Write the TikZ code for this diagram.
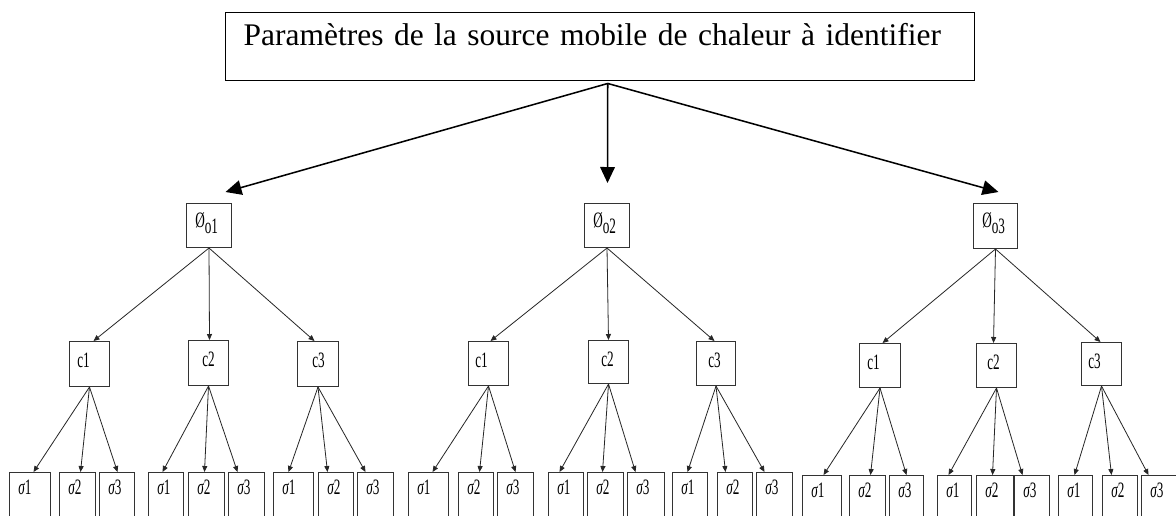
\documentclass[tikz,border=0pt]{standalone}
\usepackage{fontspec}
\usepackage{graphicx}
\setmainfont{Liberation Serif}
\usetikzlibrary{arrows.meta,calc}
\newcommand\narrowtxt[1]{\scalebox{0.6}[1]{#1}}
\newcommand\phisym[1]{\narrowtxt{Ø}\raisebox{-4.5pt}{\narrowtxt{o#1}}}
\newcommand\sig[1]{\narrowtxt{{\itshape σ}#1}}
\tikzset{
  box/.style={draw=black!80, line width=0.75pt, inner sep=0pt, anchor=north west},
  lbl/.style={font=\fontsize{16.5}{19}\selectfont, inner sep=0pt, anchor=base west},
  arr/.style={draw=black!85, line width=0.6pt, -{Triangle[length=4.5pt,width=3.8pt]}},
  bigarr/.style={line width=1.15pt, -{Triangle[length=12pt,width=11pt]}},
}
% name, x1, y1, x2, y2, text dx, text baseline dy, text
\newcommand\mybox[8]{%
  \node[box, minimum width={(#4-#2)*0.75pt}, minimum height={(#5-#3)*0.75pt},
    label={[lbl, xshift={(#6)*0.75pt}, yshift={-(#7)*0.75pt}]north west:#8}] (#1) at (#2,#3) {};}
\begin{document}
\begin{tikzpicture}[x=0.75pt,y=-0.75pt]
\useasboundingbox (0,0) rectangle (1176,515);
\clip (0,0) rectangle (1176,515);
\fill[white] (0,0) rectangle (1176,515);

% top box
\node[draw, line width=1.1pt, anchor=north west, inner xsep=13.5pt, inner ysep=0pt,
  text width=534.75pt, align=left, text height=24.75pt, text depth=26.25pt,
  font=\fontsize{23.6}{28}\selectfont] (top) at (225,12)
  {Paramètres de la source mobile de chaleur à identifier};
\coordinate (o) at ($(top.south)+(7.5,2)$);

% level 1
\mybox{p1}{186}{203}{231}{247}{9}{24}{\phisym{1}}
\mybox{p2}{584}{203}{629}{247}{9}{24}{\phisym{2}}
\mybox{p3}{973}{203}{1017}{248}{9}{24}{\phisym{3}}

\draw[bigarr] (o) -- ($(p1.north)+(16.5,-11)$);
\draw[bigarr] (o) -- ($(p2.north)+(0.5,-20)$);
\draw[bigarr] (o) -- ($(p3.north)+(3,-11)$);

% level 2
\mybox{a1}{69}{341}{109}{386}{8}{26}{\narrowtxt{c1}}
\mybox{a2}{188}{340}{228}{385}{14}{26}{\narrowtxt{c2}}
\mybox{a3}{297}{341}{338}{386}{15}{26}{\narrowtxt{c3}}
\mybox{b1}{468}{341}{508}{385}{7}{26}{\narrowtxt{c1}}
\mybox{b2}{588}{340}{628}{383}{13}{26}{\narrowtxt{c2}}
\mybox{b3}{696}{341}{735}{385}{12}{26}{\narrowtxt{c3}}
\mybox{d1}{859}{343}{900}{387}{8}{26}{\narrowtxt{c1}}
\mybox{d2}{976}{343}{1016}{387}{11}{26}{\narrowtxt{c2}}
\mybox{d3}{1081}{342}{1121}{385}{7}{26}{\narrowtxt{c3}}

\draw[arr] (p1.south) -- ($(a1.north)+(4,0)$);
\draw[arr] (p1.south) -- ($(a2.north)+(1,0)$);
\draw[arr] (p1.south) -- ($(a3.north)+(-3.5,0)$);
\draw[arr] (p2.south) -- ($(b1.north)+(2,0)$);
\draw[arr] (p2.south) -- (b2.north);
\draw[arr] (p2.south) -- ($(b3.north)+(-1.5,0)$);
\draw[arr] (p3.south) -- ($(d1.north)+(2.5,0)$);
\draw[arr] (p3.south) -- ($(d2.north)+(-3,0)$);
\draw[arr] (p3.south) -- ($(d3.north)+(-1,0)$);

% level 3, group 1
\mybox{sa1}{9}{472}{50}{525}{9}{22}{\sig{1}}
\mybox{sa2}{59}{472}{95}{525}{9}{22}{\sig{2}}
\mybox{sa3}{99}{472}{134}{525}{9}{22}{\sig{3}}
\mybox{sa4}{148}{472}{183}{525}{9}{22}{\sig{1}}
\mybox{sa5}{188}{472}{224}{525}{9}{22}{\sig{2}}
\mybox{sa6}{228}{472}{264}{525}{9}{22}{\sig{3}}
\mybox{sa7}{273}{472}{313}{525}{9}{22}{\sig{1}}
\mybox{sa8}{318}{472}{353}{525}{9}{22}{\sig{2}}
\mybox{sa9}{357}{472}{393}{525}{9}{22}{\sig{3}}
% group 2
\mybox{sb1}{408}{472}{448}{525}{9}{22}{\sig{1}}
\mybox{sb2}{458}{472}{493}{525}{9}{22}{\sig{2}}
\mybox{sb3}{497}{472}{533}{525}{9}{22}{\sig{3}}
\mybox{sb4}{548}{472}{583}{525}{9}{22}{\sig{1}}
\mybox{sb5}{587}{472}{623}{525}{9}{22}{\sig{2}}
\mybox{sb6}{627}{472}{664}{525}{9}{22}{\sig{3}}
\mybox{sb7}{672}{472}{707}{525}{9}{22}{\sig{1}}
\mybox{sb8}{717}{472}{752}{525}{9}{22}{\sig{2}}
\mybox{sb9}{756}{472}{792}{525}{9}{22}{\sig{3}}
% group 3
\mybox{sd1}{802}{475}{841}{525}{9}{22}{\sig{1}}
\mybox{sd2}{849}{475}{885}{525}{9}{22}{\sig{2}}
\mybox{sd3}{889}{475}{923}{525}{9}{22}{\sig{3}}
\mybox{sd4}{937}{475}{971}{525}{9}{22}{\sig{1}}
\mybox{sd5}{976}{475}{1013}{525}{9}{22}{\sig{2}}
\mybox{sd6}{1014}{475}{1049}{525}{9}{22}{\sig{3}}
\mybox{sd7}{1058}{475}{1092}{525}{9}{22}{\sig{1}}
\mybox{sd8}{1102}{475}{1137}{525}{9}{22}{\sig{2}}
\mybox{sd9}{1141}{475}{1176}{525}{9}{22}{\sig{3}}

% arrows c -> sigma
\draw[arr] (a1.south) -- ($(sa1.north)+(3.5,0)$);
\draw[arr] (a1.south) -- ($(sa2.north)+(3,0)$);
\draw[arr] (a1.south) -- ($(sa3.north)+(0.5,0)$);
\draw[arr] (a2.south) -- ($(sa4.north)+(-3.5,0)$);
\draw[arr] (a2.south) -- ($(sa5.north)+(-2,0)$);
\draw[arr] (a2.south) -- ($(sa6.north)+(-9,0)$);
\draw[arr] (a3.south) -- ($(sa7.north)+(-5,0)$);
\draw[arr] (a3.south) -- ($(sa8.north)+(-8.5,0)$);
\draw[arr] (a3.south) -- ($(sa9.north)+(-10,0)$);

\draw[arr] (b1.south) -- ($(sb1.north)+(4,0)$);
\draw[arr] (b1.south) -- ($(sb2.north)+(3.5,0)$);
\draw[arr] (b1.south) -- (sb3.north);
\draw[arr] (b2.south) -- ($(sb4.north)+(-6.5,0)$);
\draw[arr] (b2.south) -- ($(sb5.north)+(-3,0)$);
\draw[arr] (b2.south) -- ($(sb6.north)+(-10.5,0)$);
\draw[arr] (b3.south) -- ($(sb7.north)+(-2.5,0)$);
\draw[arr] (b3.south) -- ($(sb8.north)+(-9.5,0)$);
\draw[arr] (b3.south) -- ($(sb9.north)+(-10,0)$);

\draw[arr] (d1.south) -- ($(sd1.north)+(1.5,0)$);
\draw[arr] (d1.south) -- ($(sd2.north)+(3,0)$);
\draw[arr] (d1.south) -- (sd3.north);
\draw[arr] (d2.south) -- ($(sd4.north)+(-6,0)$);
\draw[arr] (d2.south) -- ($(sd5.north)+(-2.5,0)$);
\draw[arr] (d2.south) -- ($(sd6.north)+(-9.5,0)$);
\draw[arr] (d3.south) -- ($(sd7.north)+(-1,0)$);
\draw[arr] (d3.south) -- ($(sd8.north)+(-8.5,0)$);
\draw[arr] (d3.south) -- ($(sd9.north)+(-10.5,0)$);
\end{tikzpicture}
\end{document}
